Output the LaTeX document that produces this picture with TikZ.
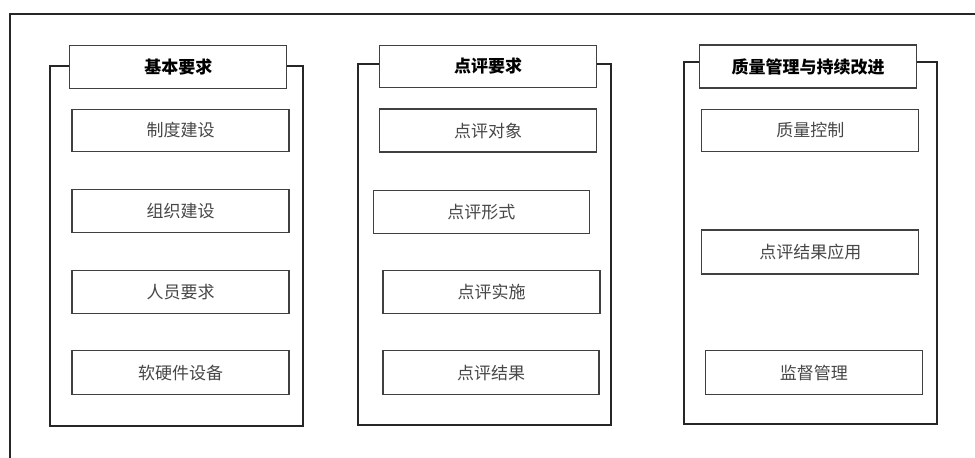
\documentclass[tikz,border=0pt]{standalone}
\usepackage{fontspec}
\newfontfamily\cjk{Noto Sans CJK SC}
\begin{document}
\begin{tikzpicture}[x=1pt,y=-1pt,
  frame/.style={draw=black!85,line width=1.6pt},
  group/.style={draw=black!85,line width=2pt},
  titlebox/.style={draw=black!75,line width=1.1pt,fill=white,inner sep=0pt,
    font=\cjk\fontsize{17}{19}\selectfont\bfseries,text=black},
  itembox/.style={draw=black!75,line width=1.1pt,fill=white,inner sep=0pt,
    font=\cjk\fontsize{17}{19}\selectfont,text=black!72}]
\useasboundingbox (0,0) rectangle (975,458);
% outer frame (only top and left visible)
\draw[frame] (10,470) -- (10,14) -- (990,14);
% containers
\draw[group] (49.5,65.5) rectangle (302.5,426);
\draw[group] (357.5,63.5) rectangle (611,425);
\draw[group] (684,62) rectangle (937,423.5);
% column 1
\node[titlebox,minimum width=217pt,minimum height=43.5pt] (t1) at (178.3,66.8) {基本要求};
\node[itembox,minimum width=217pt,minimum height=42.5pt] (a1) at (180.5,130.3) {制度建设};
\node[itembox,minimum width=217pt,minimum height=42.5pt] (a2) at (180.5,211) {组织建设};
\node[itembox,minimum width=217pt,minimum height=43pt] (a3) at (180.5,292.3) {人员要求};
\node[itembox,minimum width=217pt,minimum height=44pt] (a4) at (180.5,372.7) {软硬件设备};
% column 2
\node[titlebox,minimum width=217pt,minimum height=42.5pt] (t2) at (488,66.3) {点评要求};
\node[itembox,minimum width=217pt,minimum height=43pt] (b1) at (488,130.5) {点评对象};
\node[itembox,minimum width=216pt,minimum height=43pt] (b2) at (481.3,211.7) {点评形式};
\node[itembox,minimum width=217pt,minimum height=43pt] (b3) at (491.5,292.3) {点评实施};
\node[itembox,minimum width=216pt,minimum height=44pt] (b4) at (491,372.7) {点评结果};
% column 3
\node[titlebox,minimum width=217pt,minimum height=43pt] (t3) at (808,66.5) {质量管理与持续改进};
\node[itembox,minimum width=217pt,minimum height=42.5pt] (c1) at (810.3,130.3) {质量控制};
\node[itembox,minimum width=217pt,minimum height=44pt] (c2) at (810.3,252) {点评结果应用};
\node[itembox,minimum width=217pt,minimum height=44pt] (c3) at (813.8,372.7) {监督管理};
\end{tikzpicture}
\end{document}
